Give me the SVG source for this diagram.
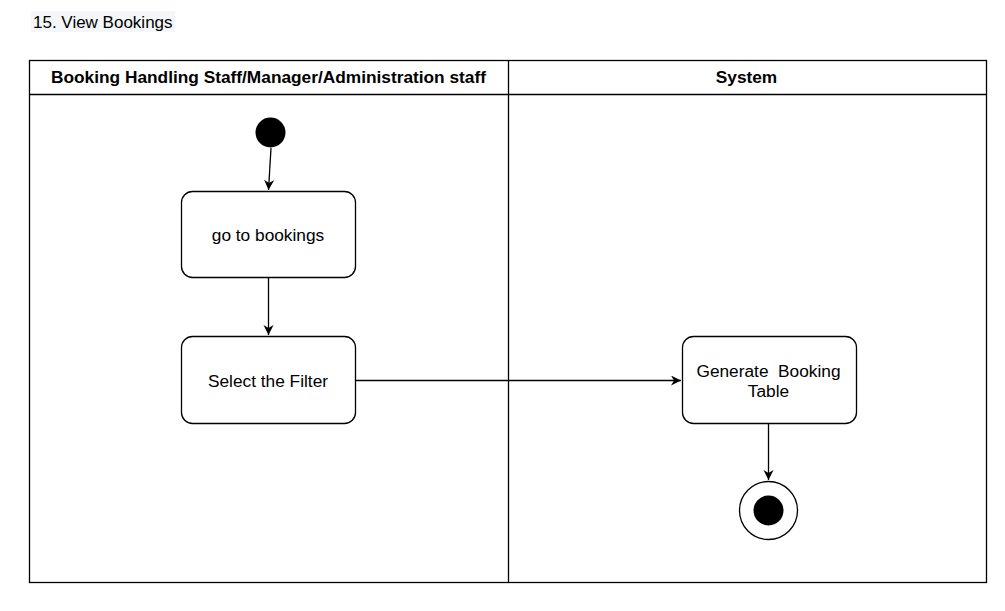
<svg xmlns="http://www.w3.org/2000/svg" width="1005" height="611" viewBox="0 0 1005 611">
<style>
.t{font-family:"Liberation Sans",Arial,sans-serif;fill:#000}
.hdr{font-size:17.3px;font-weight:bold;text-anchor:middle}
.lbl{font-size:17.3px;text-anchor:middle}
.box{fill:#fff;stroke:#000;stroke-width:1.3}
.ln{stroke:#000;stroke-width:1.3;fill:none}
</style>
<defs>
<marker id="ah" markerWidth="12" markerHeight="12" refX="10" refY="5" orient="auto" markerUnits="userSpaceOnUse">
<path d="M0,0 L10,5 L0,10 L3,5 Z" fill="#000"/>
</marker>
</defs>
<rect width="1005" height="611" fill="#fff"/>
<g id="title">
<rect x="31" y="11" width="144" height="21" fill="#f4f6f9"/>
<text class="t" x="33" y="28" font-size="17">15. View Bookings</text>
</g>
<g id="pool">
<rect x="29.5" y="60.5" width="957" height="522" fill="none" stroke="#000" stroke-width="1.3"/>
<line x1="29.5" y1="94.5" x2="986.5" y2="94.5" class="ln"/>
<line x1="508.5" y1="60.5" x2="508.5" y2="582.5" class="ln"/>
<text class="t hdr" x="268.5" y="83">Booking Handling Staff/Manager/Administration staff</text>
<text class="t hdr" x="746.5" y="83">System</text>
</g>
<g id="start"><circle cx="270.5" cy="132.5" r="15" fill="#000"/></g>
<g id="n1"><rect class="box" x="181.5" y="191.5" width="174" height="86" rx="11"/>
<text class="t lbl" x="268" y="241">go to bookings</text></g>
<g id="n2"><rect class="box" x="181.5" y="336.5" width="174" height="87" rx="11"/>
<text class="t lbl" x="268" y="387">Select the Filter</text></g>
<g id="n3"><rect class="box" x="682.5" y="336.5" width="174" height="87" rx="11"/>
<text class="t lbl" x="768.5" y="377" xml:space="preserve">Generate  Booking</text>
<text class="t lbl" x="768.5" y="397">Table</text></g>
<g id="end"><circle cx="768.5" cy="510.5" r="29" fill="#fff" stroke="#000" stroke-width="1.3"/>
<circle cx="768.5" cy="510.5" r="15" fill="#000"/></g>
<g id="connectors">
<line class="ln" x1="271" y1="148" x2="268.5" y2="190" marker-end="url(#ah)"/>
<line class="ln" x1="268.5" y1="278" x2="268.5" y2="335" marker-end="url(#ah)"/>
<line class="ln" x1="356" y1="380.5" x2="681" y2="380.5" marker-end="url(#ah)"/>
<line class="ln" x1="768.5" y1="424" x2="768.5" y2="480" marker-end="url(#ah)"/>
</g>
</svg>
